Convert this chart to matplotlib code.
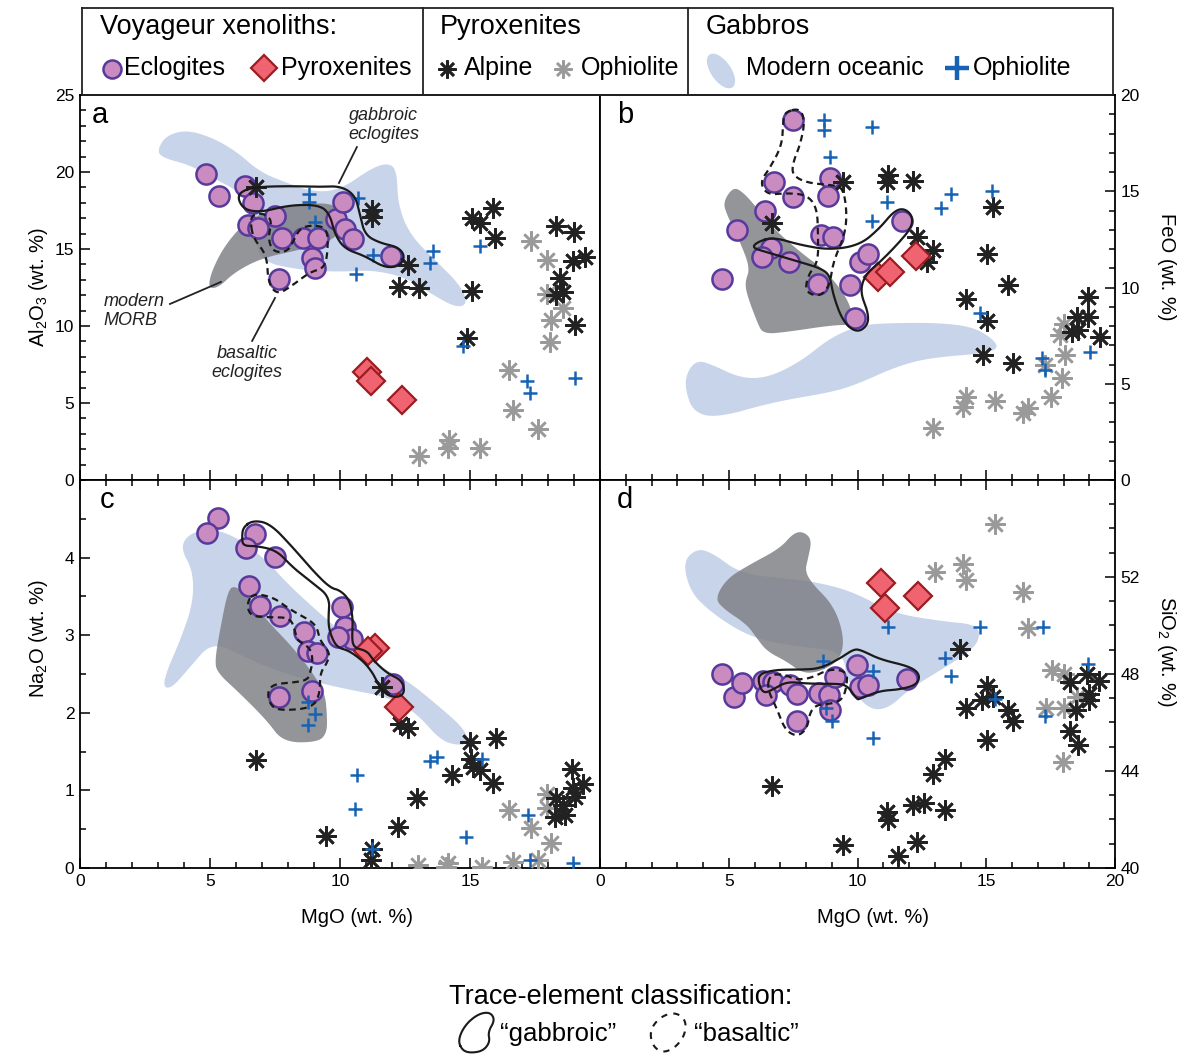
import numpy as np
import matplotlib
matplotlib.use('Agg')
import matplotlib.pyplot as plt
from matplotlib.patches import Polygon, Ellipse
from matplotlib.ticker import MultipleLocator

plt.rcParams['font.family'] = ['Liberation Sans', 'DejaVu Sans']
plt.rcParams['mathtext.fontset'] = 'custom'
plt.rcParams['mathtext.rm'] = 'Liberation Sans'
plt.rcParams['mathtext.it'] = 'Liberation Sans:italic'

# ---------------- data (MgO, oxide) ----------------
# panel a: Al2O3
a_ecl = np.array([(4.85, 19.87), (5.35, 18.44), (6.35, 19.09), (6.65, 17.99), (6.46, 16.56), (6.85, 16.36),
                  (7.5, 17.14), (7.77, 15.71), (8.58, 15.71), (9.15, 15.71), (8.92, 14.42), (9.04, 13.77),
                  (7.65, 13.05), (9.85, 16.95), (10.12, 18.05), (10.19, 16.3), (10.5, 15.65), (11.96, 14.55)])
a_pyx = np.array([(11.04, 7.01), (11.19, 6.43), (12.38, 5.19)])
a_alp = np.array([(6.77, 19.0), (11.23, 17.53), (11.23, 17.08), (15.08, 17.01), (15.38, 16.69), (15.88, 17.66),
                  (15.96, 15.71), (12.62, 13.96), (12.27, 12.53), (13.04, 12.47), (15.08, 12.27), (14.88, 9.22),
                  (18.31, 16.49), (19.0, 16.1), (18.96, 14.22), (19.42, 14.48), (18.46, 13.12), (18.31, 12.01),
                  (18.58, 12.21), (19.04, 10.06)])
a_oph = np.array([(17.35, 15.52), (17.96, 14.29), (17.96, 12.08), (18.58, 11.17), (18.12, 10.39), (18.08, 8.96),
                  (16.5, 7.14), (16.65, 4.55), (17.62, 3.31), (14.19, 2.6), (14.15, 2.08), (15.38, 2.08),
                  (13.04, 1.56)])
a_gab = np.array([(8.81, 18.57), (8.81, 18.05), (9.04, 16.75), (10.69, 18.31), (11.27, 14.61), (10.62, 13.38),
                  (13.58, 14.87), (13.46, 14.09), (15.38, 15.19), (14.73, 8.7), (17.19, 6.43), (17.31, 5.65),
                  (19.04, 6.62)])
a_ocean = [(3.0, 21.56), (3.35, 22.4), (4.12, 22.73), (5.12, 22.21), (6.04, 21.3), (6.92, 20.0), (7.96, 19.29),
           (8.96, 18.7), (10.0, 18.83), (11.27, 20.32), (11.92, 20.58), (12.19, 20.0), (12.23, 17.86),
           (12.69, 15.91), (13.73, 14.16), (14.62, 12.66), (14.92, 11.49), (14.5, 11.17), (13.58, 12.01),
           (12.58, 13.12), (11.27, 13.64), (10.0, 13.51), (8.46, 13.64), (7.0, 14.16), (6.73, 15.58),
           (6.85, 17.21), (6.15, 18.7), (5.12, 19.61), (4.23, 20.45), (3.08, 20.97)]
a_morb = [(4.92, 12.47), (5.08, 13.64), (5.58, 15.26), (6.35, 16.75), (7.31, 17.53), (8.65, 17.92), (9.62, 17.99),
          (10.12, 17.4), (10.0, 15.71), (8.46, 14.94), (7.0, 14.42), (5.96, 13.51), (5.31, 12.47)]
a_gabbroic = [(6.15, 18.7), (6.73, 19.03), (8.08, 19.09), (9.23, 19.03), (10.0, 19.09), (10.58, 18.51),
              (10.77, 17.21), (10.96, 15.91), (11.54, 15.39), (12.23, 15.13), (12.5, 14.55), (12.31, 13.9),
              (11.73, 13.77), (10.96, 14.55), (10.19, 15.0), (9.81, 15.91), (9.62, 17.21), (9.23, 17.86),
              (8.08, 17.86), (7.0, 17.4), (6.35, 17.53), (6.08, 18.18)]
a_basaltic = [(6.54, 17.01), (6.65, 15.71), (7.19, 14.61), (7.23, 12.86), (7.58, 12.01), (8.19, 12.66),
              (8.85, 13.51), (9.42, 13.77), (9.54, 15.06), (9.5, 16.36), (8.96, 16.56), (8.46, 16.36),
              (8.19, 15.45), (7.96, 14.81), (7.42, 14.81), (7.23, 15.71), (7.38, 16.75), (7.19, 17.21),
              (6.81, 17.34)]

# panel b: FeO
b_ecl = np.array([(7.5, 18.7), (6.76, 15.48), (7.5, 14.7), (8.93, 15.69), (8.85, 14.75), (6.41, 13.97),
                  (5.32, 12.99), (8.58, 12.73), (9.05, 12.62), (6.64, 12.05), (6.29, 11.58), (7.34, 11.32),
                  (4.74, 10.44), (8.47, 10.18), (9.71, 10.13), (9.9, 8.42), (10.1, 11.32), (10.41, 11.74),
                  (11.73, 13.45)])
b_pyx = np.array([(10.8, 10.55), (11.26, 10.81), (12.27, 11.64)])
b_alp = np.array([(9.44, 15.48), (6.68, 13.35), (11.18, 15.84), (11.15, 15.48), (12.16, 15.53), (15.26, 14.18),
                  (12.31, 12.62), (12.93, 11.95), (12.7, 11.32), (15.03, 11.74), (15.84, 10.13), (14.21, 9.4),
                  (15.03, 8.26), (14.87, 6.49), (16.04, 6.08), (18.95, 9.51), (18.52, 8.47), (18.95, 8.47),
                  (18.33, 7.69), (18.56, 7.79), (19.42, 7.43)])
b_oph = np.array([(18.02, 8.1), (17.86, 7.53), (18.06, 6.49), (17.94, 5.3), (17.51, 4.31), (17.28, 5.97),
                  (16.62, 3.74), (16.43, 3.48), (15.34, 4.1), (14.21, 4.31), (14.1, 3.79), (12.93, 2.7)])
b_gab = np.array([(8.7, 18.7), (8.7, 18.18), (8.93, 16.78), (10.56, 18.34), (11.15, 14.44), (10.56, 13.45),
                  (13.63, 14.86), (13.24, 14.13), (15.22, 15.01), (14.76, 8.68), (17.17, 6.34), (17.28, 5.71),
                  (19.03, 6.65)])
b_ocean = [(3.38, 5.61), (3.77, 6.23), (4.39, 5.97), (5.44, 5.3), (6.49, 5.3), (7.77, 6.13), (8.93, 7.38),
           (10.1, 8.05), (11.38, 8.16), (13.32, 8.16), (14.64, 7.9), (15.53, 7.01), (15.15, 6.6), (12.7, 6.34),
           (11.38, 5.82), (10.1, 5.04), (9.05, 4.57), (6.72, 4.05), (4.54, 3.22), (3.61, 3.53), (3.3, 4.78)]
b_morb = [(4.78, 14.44), (5.17, 15.22), (5.55, 14.96), (6.1, 14.13), (6.72, 13.09), (7.77, 11.84), (8.82, 10.81),
          (9.71, 9.25), (9.83, 8.05), (9.05, 8.05), (7.26, 7.69), (6.33, 7.58), (6.1, 8.21), (5.71, 9.61),
          (5.63, 10.29), (5.83, 11.01), (5.44, 12.36), (4.93, 13.77)]
b_gabbroic = [(6.1, 12.36), (6.72, 12.62), (7.77, 12.21), (8.93, 11.95), (10.1, 12.21), (10.87, 13.09),
              (11.38, 13.92), (11.77, 14.13), (12.12, 13.77), (12.12, 13.14), (11.53, 12.21), (10.87, 11.32),
              (10.29, 10.65), (10.1, 9.77), (10.41, 8.73), (10.41, 8.05), (9.98, 7.64), (9.44, 8.21),
              (9.05, 9.61), (8.93, 10.65), (8.54, 11.01), (7.77, 11.32), (6.6, 11.79), (5.9, 12.05)]
b_basaltic = [(7.18, 19.12), (7.77, 19.32), (7.96, 18.6), (7.77, 17.4), (7.5, 16.52), (7.46, 15.84),
              (8.04, 15.43), (9.05, 15.32), (9.44, 15.17), (9.59, 13.92), (9.51, 12.73), (9.05, 11.32),
              (8.93, 10.13), (8.54, 9.51), (7.96, 9.77), (8.08, 10.65), (8.47, 11.32), (8.47, 12.73),
              (8.43, 14.13), (8.04, 14.81), (7.26, 14.91), (6.49, 14.81), (6.21, 15.48), (6.6, 16.21),
              (7.07, 17.4), (7.11, 18.6)]

# panel c: Na2O
c_ecl = np.array([(5.31, 4.51), (4.88, 4.32), (6.73, 4.31), (6.38, 4.12), (7.5, 4.01), (6.5, 3.63), (6.92, 3.38),
                  (7.69, 3.25), (8.62, 3.04), (8.77, 2.8), (9.12, 2.77), (7.65, 2.21), (8.92, 2.28),
                  (10.08, 3.36), (10.19, 3.1), (10.46, 2.95), (9.92, 2.98), (12.04, 2.37)])
c_pyx = np.array([(11.35, 2.83), (11.08, 2.8), (12.27, 2.07)])
c_alp = np.array([(6.77, 1.39), (9.46, 0.41), (11.62, 2.33), (12.31, 1.86), (12.62, 1.81), (15.0, 1.62),
                  (16.0, 1.68), (15.04, 1.41), (15.12, 1.3), (15.38, 1.26), (14.31, 1.2), (15.88, 1.09),
                  (12.96, 0.9), (12.23, 0.53), (11.23, 0.24), (11.19, 0.1), (18.92, 1.27), (19.35, 1.08),
                  (18.96, 1.03), (19.04, 0.91), (18.31, 0.9), (18.58, 0.81), (18.27, 0.66), (18.65, 0.68)])
c_oph = np.array([(16.5, 0.75), (17.35, 0.51), (18.12, 0.32), (17.96, 0.96), (17.96, 0.77), (16.65, 0.08),
                  (17.62, 0.1), (15.46, 0.01), (14.15, 0.06), (14.08, 0.01), (13.0, 0.04)])
c_gab = np.array([(8.77, 2.14), (9.04, 1.99), (8.77, 1.84), (10.65, 1.2), (10.58, 0.76), (13.46, 1.38),
                  (13.73, 1.43), (15.46, 1.4), (14.85, 0.4), (17.23, 0.68), (17.31, 0.1), (18.96, 0.06),
                  (11.23, 0.24)])
c_ocean = [(3.85, 4.13), (4.23, 4.32), (5.12, 4.37), (6.04, 4.26), (7.19, 3.96), (7.96, 3.67), (8.96, 3.36),
           (10.19, 3.0), (11.54, 2.59), (12.58, 2.42), (13.85, 2.07), (14.73, 1.81), (15.0, 1.61), (14.5, 1.58),
           (13.85, 1.65), (12.96, 1.99), (11.92, 2.2), (10.0, 2.32), (8.08, 2.48), (6.54, 2.68), (5.12, 2.93),
           (4.23, 2.59), (3.54, 2.32), (3.19, 2.33), (3.35, 2.55), (3.85, 2.93), (4.35, 3.41), (4.35, 3.83)]
c_morb = [(5.69, 3.58), (5.96, 3.64), (6.42, 3.51), (7.19, 3.19), (8.19, 2.84), (8.96, 2.51), (9.42, 2.25),
          (9.5, 1.99), (9.5, 1.74), (9.15, 1.62), (7.81, 1.62), (7.19, 1.9), (6.15, 2.25), (5.27, 2.52),
          (5.19, 2.68), (5.38, 3.06)]
c_gabbroic = [(6.27, 4.39), (6.65, 4.48), (7.31, 4.44), (8.19, 4.13), (8.96, 3.83), (9.62, 3.61), (10.0, 3.58),
              (10.38, 3.45), (10.5, 3.19), (10.46, 3.02), (10.5, 2.84), (11.04, 2.8), (11.27, 2.68),
              (11.81, 2.51), (12.38, 2.42), (12.5, 2.26), (12.19, 2.19), (11.65, 2.25), (11.15, 2.59),
              (10.38, 2.8), (9.88, 2.84), (9.62, 3.02), (9.54, 3.19), (9.62, 3.49), (8.96, 3.67), (8.19, 3.87),
              (7.58, 4.09), (6.81, 4.15), (6.27, 4.15), (6.23, 4.26)]
c_basaltic = [(6.65, 3.54), (6.42, 3.41), (6.54, 3.25), (7.19, 3.23), (8.08, 3.23), (8.27, 3.06), (8.35, 2.93),
              (8.85, 2.84), (8.96, 2.68), (8.85, 2.51), (8.73, 2.42), (8.19, 2.39), (7.42, 2.37), (7.19, 2.25),
              (7.38, 2.06), (7.96, 2.03), (8.96, 2.07), (9.23, 2.25), (9.23, 2.51), (9.5, 2.64), (9.62, 2.77),
              (9.23, 2.93), (9.12, 3.1), (8.85, 3.19), (8.35, 3.28), (7.96, 3.36), (7.42, 3.49)]

# panel d: SiO2
d_ecl = np.array([(4.74, 47.98), (5.2, 47.07), (5.51, 47.64), (6.33, 47.73), (6.72, 47.69), (6.45, 47.15),
                  (7.38, 47.56), (7.65, 47.19), (7.65, 46.07), (8.5, 47.23), (8.89, 47.15), (9.13, 47.89),
                  (8.93, 46.53), (9.98, 48.39), (10.1, 47.48), (10.41, 47.56), (11.92, 47.81)])
d_pyx = np.array([(10.91, 51.74), (11.07, 50.74), (12.35, 51.2)])
d_alp = np.array([(6.68, 43.39), (9.44, 40.95), (13.98, 49.05), (15.03, 47.52), (14.83, 46.94), (15.26, 47.07),
                  (14.21, 46.61), (15.84, 46.53), (16.04, 46.07), (15.03, 45.29), (13.4, 44.5), (12.93, 43.88),
                  (12.16, 42.6), (12.58, 42.69), (13.4, 42.4), (11.15, 42.31), (11.18, 41.98), (12.31, 41.07),
                  (11.57, 40.5), (18.25, 47.69), (18.91, 48.02), (19.38, 47.73), (18.99, 47.19), (18.49, 46.53),
                  (18.99, 46.94), (18.25, 45.66), (18.56, 45.08)])
d_oph = np.array([(15.34, 54.17), (13.01, 52.19), (14.1, 52.52), (14.21, 51.86), (16.43, 51.4), (16.62, 49.88),
                  (17.55, 48.18), (18.02, 47.98), (18.52, 47.07), (17.32, 46.61), (18.02, 46.61), (17.98, 44.38)])
d_gab = np.array([(8.66, 48.55), (8.78, 46.61), (9.01, 46.07), (11.18, 49.92), (10.6, 48.14), (10.6, 45.37),
                  (13.4, 48.64), (13.63, 47.93), (14.76, 49.92), (15.34, 46.98), (17.2, 49.92), (17.28, 46.28),
                  (18.95, 48.43)])
d_ocean = [(3.22, 52.64), (3.77, 53.18), (4.39, 52.98), (5.44, 52.15), (7.11, 51.94), (8.27, 51.82), (9.83, 51.4),
           (11.38, 50.5), (13.32, 50.17), (14.64, 50.04), (14.76, 49.46), (14.37, 48.93), (13.32, 48.22),
           (12.04, 47.4), (11.15, 46.53), (10.37, 46.57), (9.59, 47.69), (9.44, 48.93), (7.77, 49.13),
           (6.49, 49.34), (5.44, 49.75), (4.27, 50.58), (3.5, 51.4)]
d_morb = [(4.47, 51.12), (4.93, 51.94), (5.83, 52.52), (6.99, 53.18), (7.5, 53.8), (7.88, 53.88), (8.23, 53.55),
          (8.08, 52.77), (7.96, 52.23), (8.27, 51.69), (8.93, 50.99), (9.32, 50.17), (9.48, 49.21),
          (9.24, 48.51), (8.54, 48.1), (7.88, 48.02), (7.26, 48.51), (6.49, 48.93), (6.1, 49.46), (5.71, 50.04),
          (4.78, 50.7)]
d_gabbroic = [(6.14, 47.69), (6.21, 48.02), (6.87, 48.18), (7.77, 48.18), (8.54, 48.22), (9.32, 48.64),
              (9.83, 49.01), (10.1, 49.01), (10.87, 48.6), (12.04, 48.31), (12.43, 47.98), (12.31, 47.56),
              (11.65, 47.36), (10.87, 47.31), (10.1, 46.98), (9.98, 46.94), (9.59, 47.56), (9.05, 47.6),
              (8.04, 47.6), (7.26, 47.69), (6.72, 47.36), (6.33, 47.19)]
d_basaltic = [(6.6, 47.98), (6.49, 47.4), (6.87, 46.57), (7.18, 45.7), (7.65, 45.41), (8.04, 45.74),
              (8.16, 46.45), (8.43, 46.74), (9.05, 46.78), (9.44, 46.98), (9.59, 47.56), (9.59, 48.1),
              (8.93, 48.22), (8.16, 47.81), (7.57, 47.77), (7.18, 47.98)]

# ---------------- style ----------------
BLUE_FILL = '#c8d4ea'
GREY_FILL = '#7d7e83'
ECL_FACE, ECL_EDGE = '#c98bc0', '#573a9c'
PYX_FACE, PYX_EDGE = '#ef6470', '#9b1c22'
ALP_COL = '#222222'
OPH_COL = '#9a9a9a'
GAB_COL = '#1762b5'


def smooth(pts, n=4):
    # closed Chaikin corner cutting
    p = np.asarray(pts, float)
    for _ in range(n):
        q = np.roll(p, -1, axis=0)
        out = np.empty((2 * len(p), 2))
        out[0::2] = 0.75 * p + 0.25 * q
        out[1::2] = 0.25 * p + 0.75 * q
        p = out
    return np.vstack([p, p[:1]])


def draw_panel(ax, ocean, morb, gabbroic, basaltic, ecl, pyx, alp, oph, gab):
    ax.add_patch(Polygon(smooth(ocean)[:-1], closed=True, fc=BLUE_FILL, ec='none', zorder=1))
    ax.add_patch(Polygon(smooth(morb)[:-1], closed=True, fc=GREY_FILL, ec='none', alpha=0.82, zorder=2))
    ax.plot(ecl[:, 0], ecl[:, 1], 'o', ms=14.5, mfc=ECL_FACE, mec=ECL_EDGE, mew=1.8, zorder=3)
    ax.plot(oph[:, 0], oph[:, 1], ls='none', marker=(8, 2, 0), ms=14.5, mec=OPH_COL, mew=1.8, zorder=4)
    ax.plot(alp[:, 0], alp[:, 1], ls='none', marker=(8, 2, 0), ms=14.5, mec=ALP_COL, mew=1.9, zorder=4)
    ax.plot(gab[:, 0], gab[:, 1], '+', ms=10.5, mec=GAB_COL, mew=1.8, zorder=4)
    ax.plot(pyx[:, 0], pyx[:, 1], 'D', ms=14, mfc=PYX_FACE, mec=PYX_EDGE, mew=1.6, zorder=5)
    g = smooth(gabbroic)
    ax.plot(g[:, 0], g[:, 1], color='#1a1a1a', lw=1.6, zorder=6)
    b = smooth(basaltic)
    ax.plot(b[:, 0], b[:, 1], color='#1a1a1a', lw=1.6, ls=(0, (3, 2)), zorder=6)


fig = plt.figure(figsize=(11.9, 10.55), dpi=100)
W, H = 1190.0, 1055.0
ax_a = fig.add_axes([80 / W, 1 - 480 / H, 520 / W, 385 / H])
ax_b = fig.add_axes([600 / W, 1 - 480 / H, 515 / W, 385 / H])
ax_c = fig.add_axes([80 / W, 1 - 868 / H, 520 / W, 388 / H])
ax_d = fig.add_axes([600 / W, 1 - 868 / H, 515 / W, 388 / H])

draw_panel(ax_a, a_ocean, a_morb, a_gabbroic, a_basaltic, a_ecl, a_pyx, a_alp, a_oph, a_gab)
draw_panel(ax_b, b_ocean, b_morb, b_gabbroic, b_basaltic, b_ecl, b_pyx, b_alp, b_oph, b_gab)
draw_panel(ax_c, c_ocean, c_morb, c_gabbroic, c_basaltic, c_ecl, c_pyx, c_alp, c_oph, c_gab)
draw_panel(ax_d, d_ocean, d_morb, d_gabbroic, d_basaltic, d_ecl, d_pyx, d_alp, d_oph, d_gab)

ax_a.set_ylim(0, 25)
ax_b.set_ylim(0, 20)
ax_c.set_ylim(0, 5)
ax_d.set_ylim(40, 56)

for ax in (ax_a, ax_b, ax_c, ax_d):
    ax.set_xlim(0, 20)
    ax.xaxis.set_major_locator(MultipleLocator(5))
    ax.xaxis.set_minor_locator(MultipleLocator(1))
    for s in ax.spines.values():
        s.set_linewidth(1.3)
    ax.tick_params(which='both', direction='in', labelsize=12.5, width=1.1, pad=4)
    ax.tick_params(which='major', length=7)
    ax.tick_params(which='minor', length=4)

ax_a.yaxis.set_major_locator(MultipleLocator(5))
ax_a.yaxis.set_minor_locator(MultipleLocator(1))
ax_b.yaxis.set_major_locator(MultipleLocator(5))
ax_b.yaxis.set_minor_locator(MultipleLocator(1))
ax_c.set_yticks([0, 1, 2, 3, 4])
ax_c.yaxis.set_minor_locator(MultipleLocator(0.5))
ax_d.set_yticks([40, 44, 48, 52])
ax_d.yaxis.set_minor_locator(MultipleLocator(1))

ax_a.tick_params(which='both', labelbottom=False, top=False, right=False)
ax_b.tick_params(which='both', labelbottom=False, top=False, left=False, labelleft=False,
                 right=True, labelright=True)
ax_c.tick_params(which='both', top=True, right=False)
ax_d.tick_params(which='both', top=True, left=False, labelleft=False, right=True, labelright=True)
ax_c.set_xticks([0, 5, 10, 15])
ax_c.xaxis.set_minor_locator(MultipleLocator(1))
ax_d.set_xticks([0, 5, 10, 15, 20])

lab = dict(fontsize=14.5)
ax_a.set_ylabel(r'Al$_\mathregular{2}$O$_\mathregular{3}$ (wt. %)', **lab)
ax_a.yaxis.set_label_coords(-0.058, 0.5)
ax_c.set_ylabel(r'Na$_\mathregular{2}$O (wt. %)', **lab)
ax_c.yaxis.set_label_coords(-0.058, 0.59)
ax_b.yaxis.set_label_position('right')
ax_b.set_ylabel('FeO (wt. %)', rotation=270, va='center', **lab)
ax_b.yaxis.set_label_coords(1.1, 0.553)
ax_d.yaxis.set_label_position('right')
ax_d.set_ylabel(r'SiO$_\mathregular{2}$ (wt. %)', rotation=270, va='center', **lab)
ax_d.yaxis.set_label_coords(1.1, 0.557)
ax_c.set_xlabel('MgO (wt. %)', **lab)
ax_c.xaxis.set_label_coords(0.533, -0.104)
ax_d.set_xlabel('MgO (wt. %)', **lab)
ax_d.xaxis.set_label_coords(0.53, -0.104)

for ax, letter, xf in ((ax_a, 'a', 0.038), (ax_b, 'b', 0.049), (ax_c, 'c', 0.052), (ax_d, 'd', 0.049)):
    ax.text(xf, 0.948, letter, transform=ax.transAxes, fontsize=21, ha='center', va='center', zorder=10)

# annotations in panel a
ax_a.text(0.9, 10.95, 'modern\nMORB', fontsize=13, style='italic', ha='left', va='center',
          linespacing=1.15, color='#222222')
ax_a.plot([3.46, 5.42], [11.43, 12.86], color='#222222', lw=1.3)
ax_a.text(6.42, 7.6, 'basaltic\neclogites', fontsize=13, style='italic', ha='center', va='center',
          linespacing=1.15, color='#222222')
ax_a.plot([6.62, 7.5], [9.03, 11.82], color='#222222', lw=1.3)
ax_a.text(11.69, 23.05, 'gabbroic\neclogites', fontsize=13, style='italic', ha='center', va='center',
          linespacing=1.15, color='#222222')
ax_a.plot([10.65, 9.96], [21.62, 19.29], color='#222222', lw=1.3)

# ---------------- legends (figure pixel space) ----------------
leg = fig.add_axes([0, 0, 1, 1])
leg.set_xlim(0, W)
leg.set_ylim(H, 0)
leg.axis('off')
leg.patch.set_alpha(0)

for xs, ys in (([82, 1113, 1113, 82, 82], [8, 8, 95, 95, 8]), ([423, 423], [8, 95]), ([688, 688], [8, 95])):
    leg.plot(xs, ys, color='#222222', lw=1.3)

tsz, esz = 19.5, 18
leg.text(100, 27, 'Voyageur xenoliths:', fontsize=tsz, va='center')
leg.text(440, 27, 'Pyroxenites', fontsize=tsz, va='center')
leg.text(706, 27, 'Gabbros', fontsize=tsz, va='center')

leg.plot([112], [69], 'o', ms=13, mfc=ECL_FACE, mec=ECL_EDGE, mew=1.8)
leg.text(124, 68, 'Eclogites', fontsize=esz, va='center')
leg.plot([264], [68], 'D', ms=13, mfc=PYX_FACE, mec=PYX_EDGE, mew=1.6)
leg.text(281, 68, 'Pyroxenites', fontsize=esz, va='center')
leg.plot([447], [69], ls='none', marker=(8, 2, 0), ms=13, mec=ALP_COL, mew=1.9)
leg.text(464, 68, 'Alpine', fontsize=esz, va='center')
leg.plot([563], [69], ls='none', marker=(8, 2, 0), ms=13, mec=OPH_COL, mew=1.8)
leg.text(581, 68, 'Ophiolite', fontsize=esz, va='center')
leg.add_patch(Ellipse((721, 71), 20, 40, angle=-35, fc=BLUE_FILL, ec='none'))
leg.text(746, 68, 'Modern oceanic', fontsize=esz, va='center')
leg.plot([957], [68], '+', ms=17, mec=GAB_COL, mew=3.2)
leg.text(973, 68, 'Ophiolite', fontsize=esz, va='center')

leg.text(621, 997, 'Trace-element classification:', fontsize=19.5, ha='center', va='center')
blob_g = smooth([(462, 1050), (458, 1040), (465, 1025), (478, 1014), (490, 1012), (495, 1020), (488, 1032),
                 (490, 1042), (483, 1051), (470, 1053)], 3)
leg.plot(blob_g[:, 0], blob_g[:, 1], color='#1a1a1a', lw=1.5)
leg.text(500, 1034, '\u201cgabbroic\u201d', fontsize=18.5, va='center')
blob_b = smooth([(652, 1045), (650, 1030), (660, 1017), (675, 1012), (686, 1020), (685, 1035), (675, 1048),
                 (662, 1053)], 3)
leg.plot(blob_b[:, 0], blob_b[:, 1], color='#1a1a1a', lw=1.5, ls=(0, (3, 3)))
leg.text(694, 1034, '\u201cbasaltic\u201d', fontsize=18.5, va='center')

fig.savefig('out.png', dpi=100)
